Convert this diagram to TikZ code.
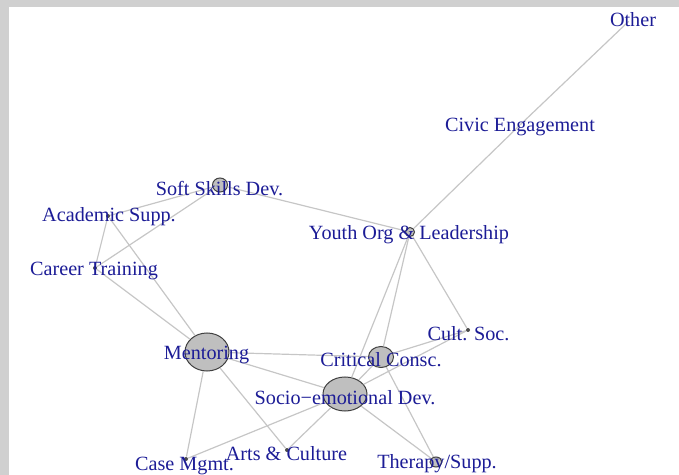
\documentclass[tikz,border=0pt]{standalone}
\usepackage{fontspec}
\setmainfont{Liberation Serif}
\usepackage{tikz}
\usetikzlibrary{positioning, calc, shapes.geometric}

\definecolor{labelblue}{RGB}{28,28,150}
\definecolor{framegray}{RGB}{208,208,208}

\begin{document}
\begin{tikzpicture}[x=0.5pt, y=-0.5pt]
        % Define styles
        \tikzstyle{vertex} = [ellipse, draw=black!75, fill=gray!50, line width=0.5pt, inner sep=0pt]
        \tikzstyle{dot} = [circle, fill=black!70, inner sep=0pt, minimum size=2pt]
        \tikzstyle{hidden} = [circle, inner sep=0pt, minimum size=0pt]
        \tikzstyle{lbl} = [text=labelblue, font=\fontsize{10.1}{12}\selectfont, inner sep=0pt, yshift=-1.5pt]
        \tikzstyle{link} = [draw=gray!45, line width=0.6pt]

        % Frame of the window
        \fill[framegray] (0,0) rectangle (679,7);
        \fill[framegray] (0,0) rectangle (9,475);
        \useasboundingbox (0,0) rectangle (679,475);

        % Place vertices
        \node [hidden] (other) at (629,21) {};
        \node [hidden] (civic) at (520,125) {};
        \node [vertex, minimum width=7.5pt, minimum height=7pt] (soft) at (220,185) {};
        \node [dot] (acad) at (108,216) {};
        \node [dot] (career) at (95,268) {};
        \node [vertex, minimum width=4.5pt, minimum height=4.5pt] (youth) at (410,232) {};
        \node [dot] (cult) at (468,330) {};
        \node [vertex, minimum width=22pt, minimum height=19pt] (ment) at (207,352) {};
        \node [vertex, minimum width=12.5pt, minimum height=10.5pt] (crit) at (381,357) {};
        \node [vertex, minimum width=22pt, minimum height=17pt] (socio) at (345,394) {};
        \node [dot] (arts) at (287,450) {};
        \node [dot] (case) at (186,459) {};
        \node [vertex, minimum width=6pt, minimum height=5pt] (ther) at (436,462) {};

        % Draw connections
        \draw [link] (other) -- (civic);
        \draw [link] (civic) -- (youth);
        \draw [link] (soft) -- (youth);
        \draw [link] (soft) -- (acad);
        \draw [link] (soft) -- (career);
        \draw [link] (acad) -- (career);
        \draw [link] (acad) -- (ment);
        \draw [link] (career) -- (ment);
        \draw [link] (ment) -- (crit);
        \draw [link] (ment) -- (socio);
        \draw [link] (ment) -- (case);
        \draw [link] (ment) -- (arts);
        \draw [link] (socio) -- (arts);
        \draw [link] (socio) -- (case);
        \draw [link] (socio) -- (ther);
        \draw [link] (socio) -- (crit);
        \draw [link] (socio) -- (cult);
        \draw [link] (socio) -- (youth);
        \draw [link] (crit) -- (cult);
        \draw [link] (crit) -- (youth);
        \draw [link] (crit) -- (ther);
        \draw [link] (youth) -- (cult);

        % Add labels on the vertices
        \node [lbl] (other-t) at (633,17) {Other};
        \node [lbl] (civic-t) at (520,124) {Civic Engagement};
        \node [lbl] (soft-t) at (219.5,186) {Soft Skills Dev.};
        \node [lbl] (acad-t) at (109,214) {Academic Supp.};
        \node [lbl] (career-t) at (94,268) {Career Training};
        \node [lbl] (youth-t) at (409,232) {Youth Org \& Leadership};
        \node [lbl] (cult-t) at (468.5,331) {Cult. Soc.};
        \node [lbl] (ment-t) at (206.5,352) {Mentoring};
        \node [lbl] (crit-t) at (381,357) {Critical Consc.};
        \node [lbl] (socio-t) at (345,395) {Socio−emotional Dev.};
        \node [lbl] (arts-t) at (286.5,451) {Arts \& Culture};
        \node [lbl] (case-t) at (184.5,463) {Case Mgmt.};
        \node [lbl] (ther-t) at (437,461) {Therapy/Supp.};
    \end{tikzpicture}
\end{document}
